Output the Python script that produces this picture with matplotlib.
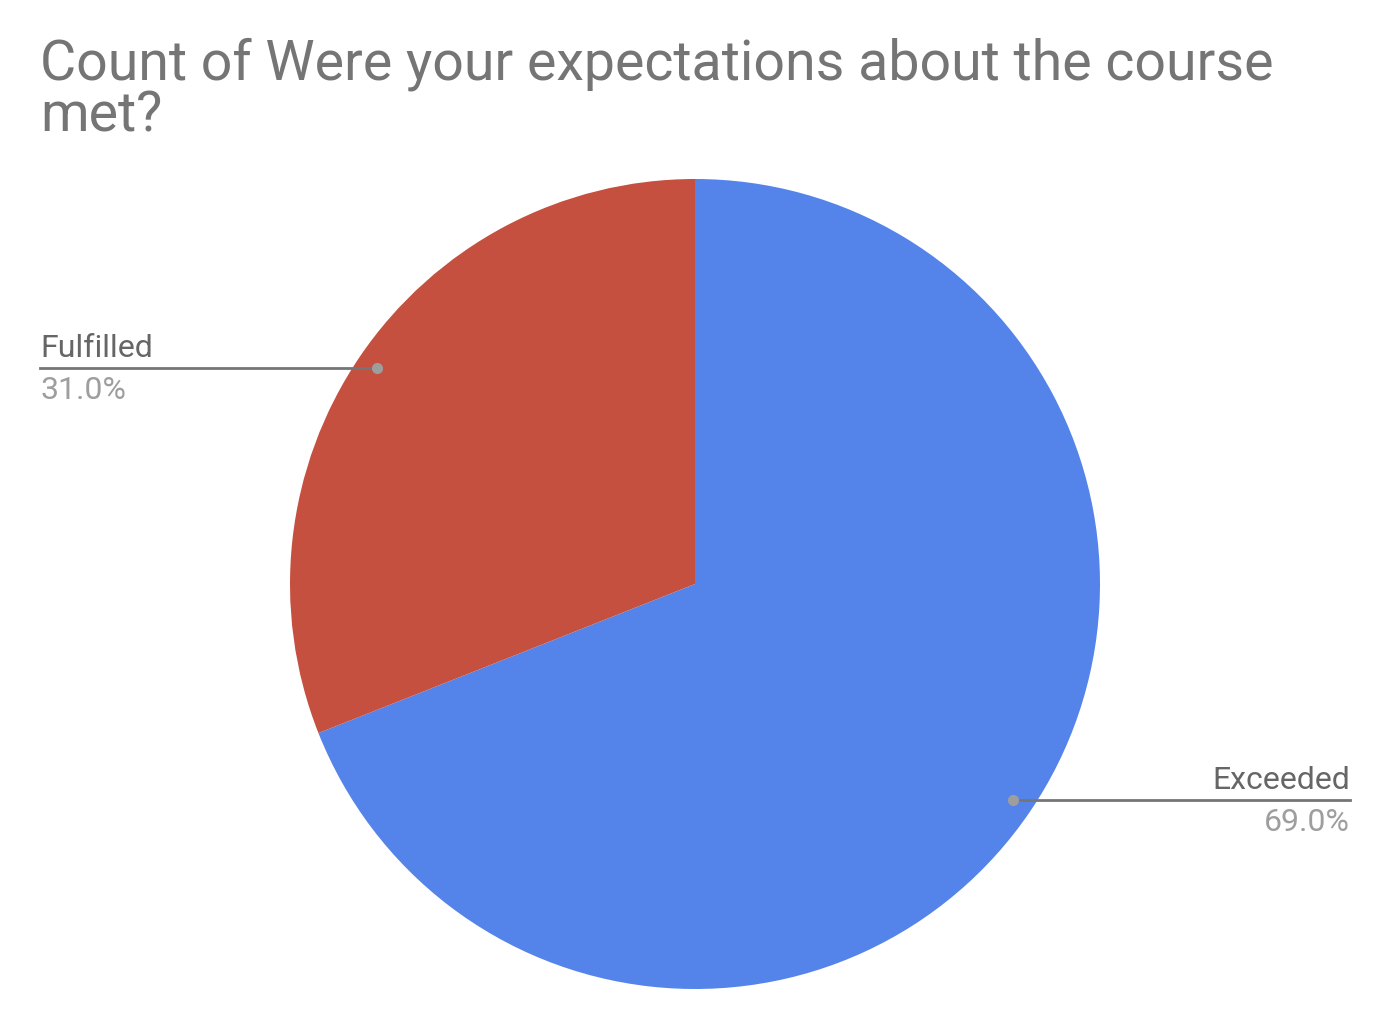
import numpy as np
import matplotlib.pyplot as plt

labels = ['Exceeded', 'Fulfilled']
values = [69.0, 31.0]
colors = ['#5484EA', '#C5503F']

W, H = 1397, 1024
fig = plt.figure(figsize=(W / 100, H / 100), dpi=100)
ax = fig.add_axes([0, 0, 1, 1])

cx, cy, r = 695, H - 584, 405
wedges, _ = ax.pie(values, colors=colors, startangle=90, counterclock=False,
                   center=(cx, cy), radius=r, frame=True,
                   wedgeprops=dict(linewidth=0))
ax.set_xlim(0, W)
ax.set_ylim(0, H)
ax.set_aspect('equal')
ax.axis('off')

plt.rcParams['font.family'] = ['Roboto', 'DejaVu Sans']

# leader lines + labels
for w, lab, v in zip(wedges, labels, values):
    mid = np.deg2rad((w.theta1 + w.theta2) / 2)
    dx, dy = cx + 0.95 * r * np.cos(mid), cy + 0.95 * r * np.sin(mid)
    if np.cos(mid) < 0:
        xe, ha = 40, 'left'
    else:
        xe, ha = 1350, 'right'
    ax.plot([dx, xe], [dy, dy], color='#757575', lw=2, zorder=3)
    ax.plot(dx, dy, 'o', color='#9E9E9E', ms=7, zorder=4)
    ax.text(xe, dy + 11, lab, ha=ha, va='baseline', fontsize=23, color='#666666')
    ax.text(xe, dy - 31, f'{v:.1f}%', ha=ha, va='baseline', fontsize=23, color='#9E9E9E')

fig.text(40 / W, 1 - 131 / H, 'Count of Were your expectations about the course\nmet?',
         ha='left', va='baseline', fontsize=40, color='#757575', linespacing=0.95)

plt.savefig('out.png', dpi=100)
